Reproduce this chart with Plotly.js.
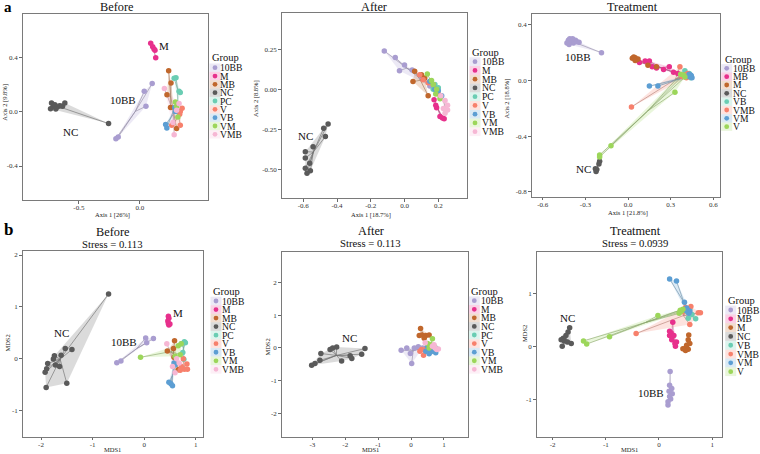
<!DOCTYPE html>
<html><head><meta charset="utf-8">
<script src="https://cdn.plot.ly/plotly-3.0.1.min.js"></script>
<style>html,body{margin:0;padding:0;background:#fff}#chart{width:760px;height:454px}</style>
</head><body><div id="chart"></div>
<script>
const FONT = "Liberation Serif";

// ---------- group names and colours ----------
const groups9 = ["10BB","M","MB","NC","PC","V","VB","VM","VMB"];
const groupsTreat = ["10BB","MB","M","NC","VB","VMB","VM","V"];
const palette = ["#A99DD0","#E7308C","#C0672C","#5A5A5A","#6ACDB3","#F7806C","#5C9ED3","#9CD65A","#F6B7D4"];

// ---------- PCoA Before: per group [x, y] ----------
const pcoaBefore = [
  [[-0.197,-0.199],[-0.178,-0.186],[0.035,0.149],[0.10,0.206],[0.049,0.039]],
  [[0.088,0.502],[0.104,0.478],[0.115,0.461],[0.123,0.451],[0.129,0.397]],
  [[0.235,0.30],[0.254,0.21],[0.221,0.125],[0.25,0.03],[0.30,-0.125]],
  [[-0.724,0.064],[-0.71,0.039],[-0.732,0.022],[-0.697,0.051],[-0.678,0.034],[-0.656,0.044],[-0.634,0.039],[-0.615,0.064],[-0.689,0.020],[-0.257,-0.088]],
  [[0.28,0.245],[0.295,0.25],[0.32,0.15],[0.33,0.14],[0.31,0.06]],
  [[0.345,0.025],[0.33,0.0],[0.325,-0.02],[0.26,-0.10],[0.33,-0.10]],
  [[0.21,-0.095],[0.22,-0.12],[0.285,0.03],[0.29,0.0]],
  [[0.29,0.07],[0.30,0.04],[0.31,-0.04]],
  [[0.20,0.17],[0.32,0.06],[0.30,0.01],[0.28,-0.17],[0.27,-0.08]]
];
// ---------- PCoA After ----------
const pcoaAfter = [
  [[-0.12,0.24],[-0.055,0.198],[0.0,0.152],[-0.03,0.116],[0.045,0.12],[0.10,0.08],[0.15,0.02]],
  [[0.175,-0.065],[0.185,-0.10],[0.19,-0.115],[0.21,-0.17],[0.225,-0.18],[0.235,-0.185]],
  [[0.06,0.113],[0.10,0.09],[0.12,0.07],[0.05,0.048],[0.14,-0.04]],
  [[-0.453,-0.217],[-0.479,-0.244],[-0.469,-0.296],[-0.542,-0.359],[-0.588,-0.39],[-0.588,-0.43],[-0.562,-0.463],[-0.588,-0.494],[-0.558,-0.509],[-0.578,-0.525]],
  [[0.17,0.0],[0.19,-0.02],[0.20,0.01],[0.18,0.03]],
  [[0.09,0.09],[0.11,0.06],[0.14,0.04],[0.17,0.03],[0.20,-0.03]],
  [[0.15,0.05],[0.18,0.0],[0.20,-0.01],[0.22,-0.04]],
  [[0.135,0.095],[0.16,0.055],[0.17,0.03],[0.19,0.0],[0.185,-0.03],[0.21,-0.06]],
  [[0.215,-0.04],[0.24,-0.07],[0.255,-0.10],[0.255,-0.13],[0.24,-0.15],[0.23,-0.12]]
];
// ---------- PCoA Treatment ----------
const pcoaTreat = [
  [[-0.43,0.27],[-0.42,0.29],[-0.41,0.30],[-0.40,0.28],[-0.39,0.30],[-0.385,0.27],[-0.37,0.29],[-0.36,0.28],[-0.345,0.275],[-0.415,0.26],[-0.187,0.20]],
  [[0.08,0.13],[0.12,0.14],[0.15,0.14],[0.17,0.10],[0.20,0.09],[0.25,0.08],[0.29,0.10],[0.32,0.06],[0.35,0.05],[0.40,0.03]],
  [[0.03,0.16],[0.04,0.17],[0.05,0.165],[0.06,0.15],[0.07,0.155],[0.14,0.11],[0.20,0.10],[0.05,0.145]],
  [[-0.2,-0.58],[-0.205,-0.60],[-0.22,-0.64],[-0.225,-0.655],[-0.23,-0.635]],
  [[0.40,0.07],[0.42,0.04],[0.44,0.02],[0.43,0.05]],
  [[0.365,0.10],[0.024,-0.19],[0.40,0.04],[0.42,0.05],[0.41,0.02],[0.38,0.03]],
  [[0.15,-0.04],[0.21,-0.04],[0.43,0.03],[0.44,0.04],[0.45,0.02],[0.445,0.035],[0.43,0.045]],
  [[-0.12,-0.47],[-0.2,-0.535],[-0.2,-0.55],[0.33,-0.085],[0.37,0.045],[0.39,0.04],[0.40,0.025]]
];
// ---------- NMDS Before ----------
const nmdsBefore = [
  [[-0.53,-0.077],[-0.45,-0.04],[0.03,0.40],[0.05,0.31],[0.18,0.39]],
  [[0.47,0.82],[0.48,0.78],[0.46,0.73],[0.47,0.68],[0.48,0.65],[0.50,0.67]],
  [[0.59,0.35],[0.45,0.15],[0.57,0.20],[0.58,0.03],[0.66,-0.21]],
  [[-0.69,1.25],[-1.53,0.2],[-1.40,0.18],[-1.61,0.07],[-1.74,0.06],[-1.76,-0.005],[-1.87,-0.09],[-1.72,-0.12],[-1.64,-0.15],[-1.92,-0.26],[-1.89,-0.19],[-1.50,-0.47],[-1.90,-0.55]],
  [[0.72,0.29],[0.78,0.33],[0.80,0.31],[0.75,0.12],[0.77,-0.01]],
  [[0.83,-0.1],[0.76,0.0],[0.72,-0.15],[0.78,-0.2],[0.84,-0.2],[0.70,-0.22]],
  [[0.58,-0.08],[0.60,-0.12],[0.48,-0.45],[0.52,-0.48],[0.55,-0.52]],
  [[-0.07,0.03],[0.66,0.25],[0.72,0.29],[0.60,0.05],[0.70,0.08]],
  [[0.44,0.29],[0.63,0.0],[0.55,-0.15],[0.60,-0.27],[0.68,-0.08]]
];
// ---------- NMDS After ----------
const nmdsAfter = [
  [[-0.3,-0.07],[-0.13,0.0],[-0.02,-0.17],[0.02,-0.48],[0.1,0.0],[0.22,0.04],[0.35,0.0],[0.28,-0.02]],
  [[0.55,0.05],[0.60,0.0],[0.65,0.05]],
  [[0.29,0.60],[0.25,0.38],[0.33,0.40],[0.45,0.38],[0.55,0.40],[0.40,0.30]],
  [[-3.02,-0.53],[-2.92,-0.48],[-2.74,-0.17],[-2.77,-0.38],[-2.46,-0.05],[-2.38,0.0],[-2.26,0.03],[-2.11,-0.4],[-1.85,-0.24],[-1.80,-0.32],[-1.50,-0.19],[-1.40,-0.02]],
  [[0.5,0.1],[0.6,-0.05],[0.7,-0.1],[0.75,0.0]],
  [[0.27,-0.1],[0.38,-0.22],[0.32,-0.05],[0.45,-0.10],[0.55,-0.15],[0.48,0.0]],
  [[0.45,-0.1],[0.6,-0.12],[0.75,-0.15],[0.65,-0.05],[0.55,-0.18],[0.5,0.05]],
  [[0.65,0.28],[0.50,0.14],[0.60,0.10],[0.70,0.05],[0.55,0.0]],
  [[0.43,0.16],[0.65,0.05],[0.73,0.0],[0.83,-0.03],[0.78,-0.05],[0.70,0.10]]
];
// ---------- NMDS Treatment ----------
const nmdsTreat = [
  [[0.21,-0.48],[0.20,-0.74],[0.24,-0.80],[0.19,-0.85],[0.25,-0.90],[0.20,-0.95],[0.22,-1.00],[0.17,-1.05],[0.17,-1.11]],
  [[0.26,0.45],[0.20,0.28],[0.23,0.25],[0.20,0.20],[0.28,0.20],[0.24,0.12],[0.33,0.08],[0.30,0.05],[0.31,0.0]],
  [[0.56,0.21],[0.55,0.12],[0.58,0.05],[0.52,0.02],[0.48,-0.05],[0.55,-0.06],[0.50,-0.08],[0.45,-0.05]],
  [[-1.68,0.35],[-1.71,0.27],[-1.75,0.20],[-1.80,0.15],[-1.84,0.12],[-1.78,0.10],[-1.82,0.0],[-1.65,0.05],[-1.72,0.08]],
  [[0.55,0.53],[0.69,0.52],[0.62,0.60],[0.58,0.70],[0.50,0.66]],
  [[-0.43,0.24],[0.58,0.41],[0.74,0.63],[0.78,0.63],[0.50,0.73],[0.60,0.75],[0.45,0.65]],
  [[0.20,1.27],[0.33,1.23],[0.48,0.83],[0.52,0.72],[0.55,0.68],[0.58,0.66],[0.56,0.62],[0.50,0.68]],
  [[-1.42,0.10],[-1.36,0.04],[-0.93,0.18],[-0.02,0.58],[0.38,0.62],[0.42,0.66],[0.45,0.70],[0.40,0.68]]
];

// ---------- in-panel text labels ----------
const lblBeforeP = ["NC","10BB","M"];   const lblBeforePX = [-0.566,-0.142,0.2];  const lblBeforePY = [-0.149,0.088,0.48];
const lblAfterP  = ["NC"];              const lblAfterPX  = [-0.588];             const lblAfterPY  = [-0.292];
const lblTreatP  = ["10BB","NC"];       const lblTreatPX  = [-0.352,-0.317];      const lblTreatPY  = [0.17,-0.633];
const lblBeforeN = ["NC","10BB","M"];   const lblBeforeNX = [-1.61,-0.40,0.65];   const lblBeforeNY = [0.49,0.32,0.875];
const lblAfterN  = ["NC"];              const lblAfterNX  = [-1.88];              const lblAfterNY  = [0.29];
const lblTreatN  = ["NC","10BB"];       const lblTreatNX  = [-1.73,-0.143];       const lblTreatNY  = [0.54,-0.89];

// ---------- helpers ----------
const W = 760, H = 454;
const px = v => v / W, py = v => 1 - v / H;
function hexToRgb(h){ const n = parseInt(h.slice(1),16); return [(n>>16)&255,(n>>8)&255,n&255]; }
function rgba(h,a){ const c=hexToRgb(h); return `rgba(${c[0]},${c[1]},${c[2]},${a})`; }
function mixGrey(h,t,a){ const c=hexToRgb(h); const g=130; return `rgba(${Math.round(c[0]*(1-t)+g*t)},${Math.round(c[1]*(1-t)+g*t)},${Math.round(c[2]*(1-t)+g*t)},${a})`; }
function hull(points){
  const p = points.slice().sort((a,b)=>a[0]-b[0]||a[1]-b[1]);
  if (p.length < 3) return p;
  const cross=(o,a,b)=>(a[0]-o[0])*(b[1]-o[1])-(a[1]-o[1])*(b[0]-o[0]);
  const lo=[],up=[];
  for(const q of p){ while(lo.length>=2&&cross(lo[lo.length-2],lo[lo.length-1],q)<=0) lo.pop(); lo.push(q); }
  for(let i=p.length-1;i>=0;i--){ const q=p[i]; while(up.length>=2&&cross(up[up.length-2],up[up.length-1],q)<=0) up.pop(); up.push(q); }
  up.pop(); lo.pop(); return lo.concat(up);
}

const panels = [
  {groups:groups9, pts:pcoaBefore, frame:[22.7,14,208,200], xr:[-0.96,0.557], yr:[-0.65,0.718],
   xt:[-0.5,0], xtt:["-0.5","0.0"], yt:[-0.4,0,0.4], ytt:["-0.4","0.0","0.4"],
   xtitle:"Axis 1 [26%]", xtp:[112.5,214.5], ytitle:"Axis 2 [9.8%]", ytp:[5,102.7], title:"Before", tx:117, ty:7.5, sub:null,
   leg:[210,57.5,215,218.5,67.7,8.33], lab:[lblBeforeP,lblBeforePX,lblBeforePY]},
  {groups:groups9, pts:pcoaAfter, frame:[281.7,13.3,467.3,198], xr:[-0.728,0.372], yr:[-0.68,0.475],
   xt:[-0.6,-0.4,-0.2,0,0.2], xtt:["-0.6","-0.4","-0.2","0.0","0.2"], yt:[-0.5,-0.25,0,0.25], ytt:["-0.50","-0.25","0.00","0.25"],
   xtitle:"Axis 1 [18.7%]", xtp:[370.7,214.5], ytitle:"Axis 2 [8.8%]", ytp:[256.7,98.3], title:"After", tx:373.5, ty:7, sub:null,
   leg:[470,52.5,475,479.5,61.7,8.75], lab:[lblAfterP,lblAfterPX,lblAfterPY]},
  {groups:groupsTreat, pts:pcoaTreat, frame:[531.7,14,720,196.7], xr:[-0.678,0.647], yr:[-0.836,0.479],
   xt:[-0.6,-0.3,0,0.3,0.6], xtt:["-0.6","-0.3","0.0","0.3","0.6"], yt:[-0.8,-0.4,0,0.4], ytt:["-0.8","-0.4","0.0","0.4"],
   xtitle:"Axis 1 [21.8%]", xtp:[628,213], ytitle:"Axis 2 [18.8%]", ytp:[507.3,98.3], title:"Treatment", tx:632, ty:6.5, sub:null,
   leg:[722.5,59.5,726.7,731,68.3,8.34], lab:[lblTreatP,lblTreatPX,lblTreatPY]},
  {groups:groups9, pts:nmdsBefore, frame:[22.7,250.7,202.7,436.7], xr:[-2.355,1.136], yr:[-1.5,2.083],
   xt:[-2,-1,0,1], xtt:["-2","-1","0","1"], yt:[-1,0,1,2], ytt:["-1","0","1","2"],
   xtitle:"MDS1", xtp:[112.7,449.8], ytitle:"MDS2", ytp:[7.3,343.3], title:"Before", tx:112.7, ty:231.5, sub:"Stress = 0.113",
   leg:[210.5,291.7,216,219.5,301,8.54], lab:[lblBeforeN,lblBeforeNX,lblBeforeNY]},
  {groups:groups9, pts:nmdsAfter, frame:[281.7,251.7,468.3,436.7], xr:[-3.93,1.74], yr:[-2.72,2.95],
   xt:[-3,-2,-1,0,1], xtt:["-3","-2","-1","0","1"], yt:[-2,-1,0,1,2], ytt:["-2","-1","0","1","2"],
   xtitle:"MDS1", xtp:[370.7,449.8], ytitle:"MDS2", ytp:[267.3,347.3], title:"After", tx:370.7, ty:231, sub:"Stress = 0.113",
   leg:[469.3,291.7,474.3,478.8,300.7,8.58], lab:[lblAfterN,lblAfterNX,lblAfterNY]},
  {groups:groupsTreat, pts:nmdsTreat, frame:[536.7,251.7,721.7,436.7], xr:[-2.30,1.18], yr:[-1.71,1.785],
   xt:[-2,-1,0,1], xtt:["-2","-1","0","1"], yt:[-1,0,1], ytt:["-1","0","1"],
   xtitle:"MDS1", xtp:[629.3,449.8], ytitle:"MDS2", ytp:[524,334], title:"Treatment", tx:635, ty:230.5, sub:"Stress = 0.0939",
   leg:[726,300.7,730.7,735,310,8.81], lab:[lblTreatN,lblTreatNX,lblTreatNY]}
];

const traces = [], shapes = [], annotations = [];
const layout = {
  width: W, height: H, margin:{l:0,r:0,t:0,b:0}, paper_bgcolor:"#fff", plot_bgcolor:"#fff",
  showlegend:false, font:{family:FONT, color:"#000"}
};

panels.forEach((P, i) => {
  const k = i + 1, xa = "x" + (k>1?k:""), ya = "y" + (k>1?k:"");
  const [x0,y0,x1,y1] = P.frame;
  const axCommon = {showline:true, mirror:true, linecolor:"#7a7a7a", linewidth:1, showgrid:false, zeroline:false,
    ticks:"outside", ticklen:2.5, tickcolor:"#444", tickwidth:0.8, tickfont:{family:FONT,size:7,color:"#333"}, tickmode:"array", fixedrange:true};
  layout["xaxis"+(k>1?k:"")] = Object.assign({}, axCommon, {domain:[px(x0),px(x1)], range:P.xr, anchor:ya,
    tickvals:P.xt, ticktext:P.xtt, ticklabelstandoff:-2});
  layout["yaxis"+(k>1?k:"")] = Object.assign({}, axCommon, {domain:[py(y1),py(y0)], range:P.yr, anchor:xa,
    tickvals:P.yt, ticktext:P.ytt});

  const cols = P.groups.map((g,j)=>palette[j]);
  P.pts.forEach((pts,j)=>{
    const h = hull(pts);
    if (h.length >= 3) traces.push({type:"scatter", mode:"lines", xaxis:xa, yaxis:ya, x:h.map(p=>p[0]).concat([h[0][0]]), y:h.map(p=>p[1]).concat([h[0][1]]),
      fill:"toself", fillcolor:rgba(cols[j],0.22), line:{width:0}, hoverinfo:"skip"});
  });
  P.pts.forEach((pts,j)=>{
    const cx = pts.reduce((s,p)=>s+p[0],0)/pts.length, cy = pts.reduce((s,p)=>s+p[1],0)/pts.length;
    const xs=[], ys=[];
    pts.forEach(p=>{ xs.push(cx,p[0],null); ys.push(cy,p[1],null); });
    traces.push({type:"scatter", mode:"lines", xaxis:xa, yaxis:ya, x:xs, y:ys, line:{color:mixGrey(cols[j],0.55,0.8), width:0.8}, hoverinfo:"skip"});
  });
  P.pts.forEach((pts,j)=>{
    traces.push({type:"scatter", mode:"markers", name:P.groups[j], xaxis:xa, yaxis:ya, x:pts.map(p=>p[0]), y:pts.map(p=>p[1]),
      marker:{color:cols[j], size:5.5, line:{width:0}}});
  });
  P.lab[0].forEach((t,j)=>annotations.push({xref:xa, yref:ya, x:P.lab[1][j], y:P.lab[2][j], text:t, showarrow:false,
    font:{family:FONT,size:11,color:"#111"}}));
  annotations.push({xref:"paper", yref:"paper", x:px(P.xtp[0]), y:py(P.xtp[1]), text:P.xtitle, showarrow:false, xanchor:"center", yanchor:"middle",
    font:{family:FONT,size:6.5,color:"#222"}});
  annotations.push({xref:"paper", yref:"paper", x:px(P.ytp[0]), y:py(P.ytp[1]), text:P.ytitle, showarrow:false, textangle:-90, xanchor:"center", yanchor:"middle",
    font:{family:FONT,size:6.5,color:"#222"}});
  annotations.push({xref:"paper", yref:"paper", x:px(P.tx), y:py(P.ty), text:P.title, showarrow:false, xanchor:"center", yanchor:"middle",
    font:{family:FONT,size:12.3,color:"#111"}});
  if (P.sub) annotations.push({xref:"paper", yref:"paper", x:px(P.tx), y:py(P.ty+12), text:P.sub, showarrow:false, xanchor:"center", yanchor:"middle",
    font:{family:FONT,size:10.7,color:"#111"}});
  const [gx,gy,mx,tx,iy,st] = P.leg;
  annotations.push({xref:"paper", yref:"paper", x:px(gx), y:py(gy), text:"Group", showarrow:false, xanchor:"left", yanchor:"middle",
    font:{family:FONT,size:10.5,color:"#111"}});
  P.groups.forEach((g,j)=>{
    const yy = iy + j*st;
    shapes.push({type:"rect", xref:"paper", yref:"paper", x0:px(mx-5.5), x1:px(mx+5.5), y0:py(yy+st/2), y1:py(yy-st/2),
      fillcolor:rgba(cols[j],0.22), line:{width:0}});
    shapes.push({type:"circle", xref:"paper", yref:"paper", x0:px(mx-2.4), x1:px(mx+2.4), y0:py(yy+2.4), y1:py(yy-2.4),
      fillcolor:cols[j], line:{width:0}});
    annotations.push({xref:"paper", yref:"paper", x:px(tx), y:py(yy), text:g, showarrow:false, xanchor:"left", yanchor:"middle",
      font:{family:FONT,size:9.6,color:"#111"}});
  });
});

annotations.push({xref:"paper", yref:"paper", x:px(2), y:py(7), text:"<b>a</b>", showarrow:false, xanchor:"left", yanchor:"middle", font:{family:FONT,size:15,color:"#000"}});
annotations.push({xref:"paper", yref:"paper", x:px(2), y:py(229), text:"<b>b</b>", showarrow:false, xanchor:"left", yanchor:"middle", font:{family:FONT,size:17,color:"#000"}});

layout.shapes = shapes;
layout.annotations = annotations;
Plotly.newPlot("chart", traces, layout, {staticPlot:true, displayModeBar:false});
</script></body></html>
